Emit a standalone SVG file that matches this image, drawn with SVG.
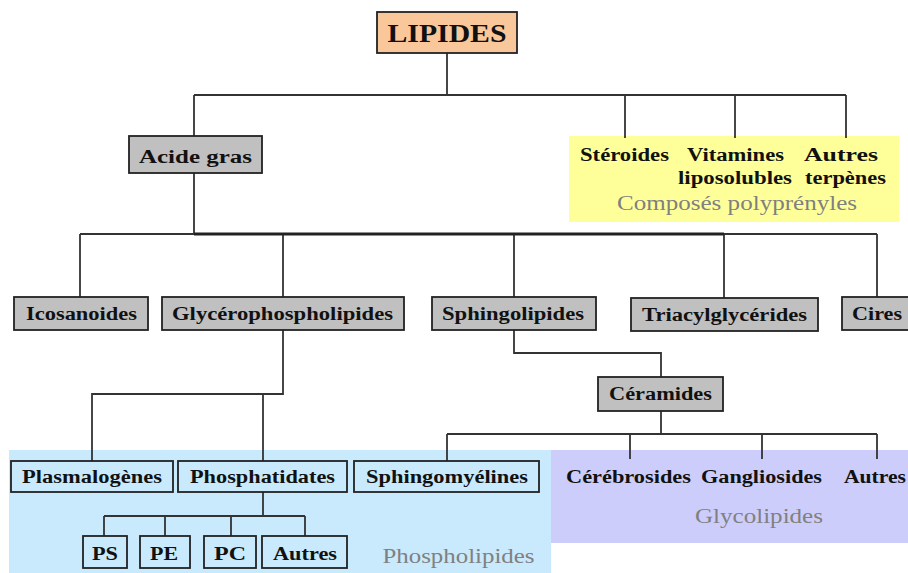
<svg xmlns="http://www.w3.org/2000/svg" width="908" height="573" viewBox="0 0 908 573">
<style>
.bg{fill:#ffffff}
.box{stroke:#222;stroke-width:1.8}
.grey{fill:#c0c0c0}
.clear{fill:none}
.peach{fill:#fac79a}
.t{font-family:"Liberation Serif","Times New Roman",serif;font-weight:bold;font-size:18.5px;fill:#111;text-anchor:middle}
.big{font-size:26px}
.cap{font-family:"Liberation Serif","Times New Roman",serif;font-size:20px;fill:#808080;text-anchor:middle}
.ln{stroke:#333;stroke-width:1.8;fill:none}
</style>
<rect class="bg" x="0" y="0" width="908" height="573"/>
<g id="regions">
<rect x="569" y="136" width="330" height="86" fill="#ffff99"/>
<rect x="9" y="450" width="542" height="123" fill="#c9eafc"/>
<rect x="551" y="450" width="357" height="93" fill="#cdcdfc"/>
</g>
<g id="connectors">
<path class="ln" d="M447 53V95M194 95H846M194 95V136M625 95V138M735 95V138M846 95V138"/>
<path class="ln" d="M194 173V234M80 234H877M80 234V297M283 234V297M514 234V297M724 234V298M877 234V297"/>
<path d="M194 234H724" stroke="#222" stroke-width="3"/>
<path class="ln" d="M283 330V394H92V461M263 394V461"/>
<path class="ln" d="M514 330V353H661V377"/>
<path class="ln" d="M661 411V434M447 434H877M447 434V461M630 434V459M762 434V459M877 434V459"/>
<path class="ln" d="M263 492V516M104 516H305M104 516V536M165 516V536M231 516V536M305 516V536"/>
</g>
<g id="n-lipides"><rect class="box peach" x="377" y="12" width="140" height="41"/><text class="t big" x="447" y="42" textLength="119" lengthAdjust="spacingAndGlyphs">LIPIDES</text></g>
<g id="n-acide-gras"><rect class="box grey" x="129" y="136" width="133" height="37"/><text class="t" x="195.5" y="163" textLength="113" lengthAdjust="spacingAndGlyphs">Acide gras</text></g>
<g id="n-polyprenyles">
<text class="t" x="624.5" y="161" textLength="89" lengthAdjust="spacingAndGlyphs">Stéroides</text>
<text class="t" x="735.5" y="161" textLength="97" lengthAdjust="spacingAndGlyphs">Vitamines</text>
<text class="t" x="735" y="184" textLength="114" lengthAdjust="spacingAndGlyphs">liposolubles</text>
<text class="t" x="841" y="161" textLength="74" lengthAdjust="spacingAndGlyphs">Autres</text>
<text class="t" x="845.5" y="184" textLength="81" lengthAdjust="spacingAndGlyphs">terpènes</text>
<text class="cap" x="737" y="210" textLength="240" lengthAdjust="spacingAndGlyphs">Composés polyprényles</text>
</g>
<g id="n-icosanoides"><rect class="box grey" x="14" y="297" width="134" height="33"/><text class="t" x="81.5" y="320" textLength="111" lengthAdjust="spacingAndGlyphs">Icosanoides</text></g>
<g id="n-glycerophospholipides"><rect class="box grey" x="162" y="297" width="242" height="33"/><text class="t" x="282.5" y="320" textLength="221" lengthAdjust="spacingAndGlyphs">Glycérophospholipides</text></g>
<g id="n-sphingolipides"><rect class="box grey" x="432" y="297" width="164" height="33"/><text class="t" x="513" y="320" textLength="142" lengthAdjust="spacingAndGlyphs">Sphingolipides</text></g>
<g id="n-triacylglycerides"><rect class="box grey" x="631" y="298" width="187" height="33"/><text class="t" x="724.5" y="321" textLength="165" lengthAdjust="spacingAndGlyphs">Triacylglycérides</text></g>
<g id="n-cires"><rect class="box grey" x="842" y="297" width="70" height="33"/><text class="t" x="877" y="320" textLength="50" lengthAdjust="spacingAndGlyphs">Cires</text></g>
<g id="n-ceramides"><rect class="box grey" x="598" y="377" width="125" height="34"/><text class="t" x="660.5" y="400" textLength="103" lengthAdjust="spacingAndGlyphs">Céramides</text></g>
<g id="n-plasmalogenes"><rect class="box clear" x="11" y="461" width="162" height="31"/><text class="t" x="92" y="483" textLength="140" lengthAdjust="spacingAndGlyphs">Plasmalogènes</text></g>
<g id="n-phosphatidates"><rect class="box clear" x="178" y="461" width="169" height="31"/><text class="t" x="262.5" y="483" textLength="145" lengthAdjust="spacingAndGlyphs">Phosphatidates</text></g>
<g id="n-sphingomyelines"><rect class="box clear" x="354" y="461" width="185" height="31"/><text class="t" x="447" y="483" textLength="162" lengthAdjust="spacingAndGlyphs">Sphingomyélines</text></g>
<g id="n-glycolipides">
<text class="t" x="628.5" y="483" textLength="125" lengthAdjust="spacingAndGlyphs">Cérébrosides</text>
<text class="t" x="761.5" y="483" textLength="121" lengthAdjust="spacingAndGlyphs">Gangliosides</text>
<text class="t" x="875" y="483" textLength="62" lengthAdjust="spacingAndGlyphs">Autres</text>
<text class="cap" x="759" y="523" textLength="128" lengthAdjust="spacingAndGlyphs">Glycolipides</text>
</g>
<g id="n-ps"><rect class="box clear" x="83" y="536" width="44" height="32"/><text class="t" x="105" y="560" textLength="26" lengthAdjust="spacingAndGlyphs">PS</text></g>
<g id="n-pe"><rect class="box clear" x="140" y="536" width="50" height="32"/><text class="t" x="164" y="560" textLength="28" lengthAdjust="spacingAndGlyphs">PE</text></g>
<g id="n-pc"><rect class="box clear" x="204" y="536" width="52" height="32"/><text class="t" x="230" y="560" textLength="32" lengthAdjust="spacingAndGlyphs">PC</text></g>
<g id="n-autres-p"><rect class="box clear" x="262" y="536" width="85" height="32"/><text class="t" x="305" y="560" textLength="64" lengthAdjust="spacingAndGlyphs">Autres</text></g>
<g id="n-phospholipides"><text class="cap" x="458.5" y="563" textLength="152" lengthAdjust="spacingAndGlyphs">Phospholipides</text></g>
</svg>
